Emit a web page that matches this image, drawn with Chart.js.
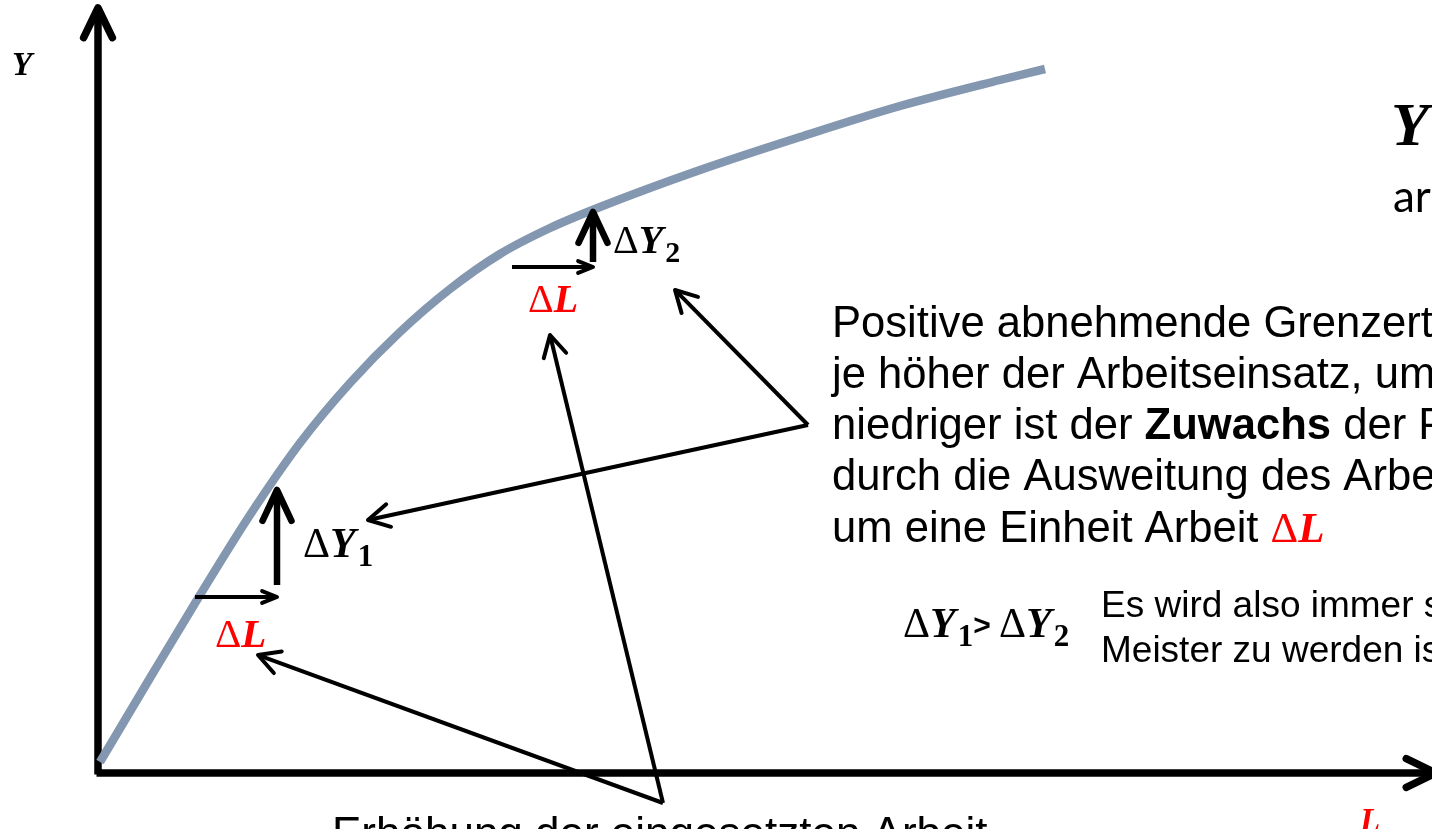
<!DOCTYPE html>
<html><head><meta charset="utf-8">
<script src="https://cdn.jsdelivr.net/npm/chart.js@4.4.1/dist/chart.umd.min.js"></script>
<style>
html,body{margin:0;padding:0;background:#ffffff;overflow:hidden}
#wrap{width:1432px;height:829px;position:relative}
</style>
</head><body>
<div id="wrap"><canvas id="c"></canvas></div>
<script>
// ---- data (units: L on x, Y on y) ----
const curveL = [0.02, 0.52, 1.02, 1.52, 2.02, 2.52, 3.02, 3.52, 4.02, 4.52, 5.02, 6.02, 7.02, 8.02, 9.02, 9.47];
const curveY = [0.11, 0.95, 1.78, 2.58, 3.30, 3.90, 4.41, 4.84, 5.19, 5.45, 5.66, 6.03, 6.36, 6.67, 6.93, 7.04];
const xRange = [-0.98, 13.34];
const yRange = [-0.56, 7.73];

// axes (start, end) in units
const axisVertical = [[0, -0.015], [0, 7.65]];
const axisHorizontal = [[-0.015, 0], [13.38, 0]];

// increment arrows: [fromL, fromY, toL, toY]
const deltaL1 = [0.97, 1.76, 1.79, 1.76];
const deltaY1 = [1.79, 1.88, 1.79, 2.83];
const deltaL2 = [4.14, 5.06, 4.95, 5.06];
const deltaY2 = [4.95, 5.11, 4.95, 5.61];

// pointer arrows: [fromL, fromY, toL, toY]
const pointers = [
  [7.10, 3.48, 2.70, 2.53],
  [7.10, 3.48, 5.77, 4.83],
  [5.65, -0.30, 4.52, 4.38],
  [5.65, -0.30, 1.60, 1.18]
];

// text anchors (left, baseline) in units
const labelYAxis = [-0.86, 6.98];
const labelLAxis = [12.62, -0.58];
const labelDY1 = [2.05, 2.16];
const labelDL1 = [1.17, 1.26];
const labelDY2 = [5.15, 5.20];
const labelDL2 = [4.30, 4.61];
const labelCompare = [8.05, 1.36];
const labelBigY = [12.93, 6.28];
const labelAr = [12.95, 5.61];
const bodyLines = [
  [[ 'Positive abnehmende Grenzerträge', 'n' ]],
  [[ 'je höher der Arbeitseinsatz, umso', 'n' ]],
  [[ 'niedriger ist der ', 'n' ], [ 'Zuwachs', 'b' ], [ ' der Produktion', 'n' ]],
  [[ 'durch die Ausweitung des Arbeitseinsatzes', 'n' ]],
  [[ 'um eine Einheit Arbeit ', 'n' ]]
];
const bodyLeft = 7.34;
const bodyBaselines = [4.36, 3.85, 3.34, 2.83, 2.31];
const noteLines = ['Es wird also immer schwieriger', 'Meister zu werden ist'];
const noteLeft = 10.03;
const noteBaselines = [1.56, 1.11];
const bottomText = 'Erhöhung der eingesetzten Arbeit';
const bottomAnchor = [2.34, -0.75];

// ---- drawing ----
const SANS = '"Liberation Sans", Arial, sans-serif';
const SERIF = '"Liberation Serif", "Times New Roman", serif';
const RED = '#ff0000';

function px(chart, p){ return [chart.scales.x.getPixelForValue(p[0]), chart.scales.y.getPixelForValue(p[1])]; }

function arrow(ctx, a, b, w, head, ang, color){
  const dx = b[0]-a[0], dy = b[1]-a[1], len = Math.hypot(dx, dy);
  const ux = dx/len, uy = dy/len;
  ctx.save(); ctx.strokeStyle = color; ctx.lineWidth = w; ctx.lineCap = 'butt'; ctx.lineJoin = 'miter';
  ctx.beginPath(); ctx.moveTo(a[0], a[1]); ctx.lineTo(b[0]-ux*w*0.6, b[1]-uy*w*0.6); ctx.stroke();
  const c = Math.cos(ang), s = Math.sin(ang);
  const l1 = [b[0] - head*(ux*c - uy*s), b[1] - head*(uy*c + ux*s)];
  const l2 = [b[0] - head*(ux*c + uy*s), b[1] - head*(uy*c - ux*s)];
  ctx.lineCap = 'round'; ctx.lineJoin = 'round';
  ctx.beginPath(); ctx.moveTo(l1[0], l1[1]); ctx.lineTo(b[0], b[1]); ctx.lineTo(l2[0], l2[1]); ctx.stroke();
  ctx.restore();
}
// math: parts [text, kind]: 'd' upright, 'v' bold italic, 's' subscript bold, 'g' sans operator
function math(ctx, x, y, parts, size, color){
  ctx.save(); ctx.fillStyle = color; ctx.textBaseline = 'alphabetic'; ctx.textAlign = 'left';
  let cx = x;
  for (const [t, k] of parts){
    if (k === 'd'){ ctx.font = `${size}px ${SERIF}`; ctx.fillText(t, cx, y); }
    else if (k === 'v'){ ctx.font = `italic bold ${size}px ${SERIF}`; ctx.fillText(t, cx, y); }
    else if (k === 's'){ ctx.font = `bold ${Math.round(size*0.74)}px ${SERIF}`; ctx.fillText(t, cx+2, y + size*0.22); cx += 2; }
    else if (k === 'g'){ ctx.font = `bold ${Math.round(size*0.72)}px ${SANS}`; ctx.fillText(t, cx, y-2); }
    cx += ctx.measureText(t).width;
  }
  ctx.restore();
  return cx;
}
function rich(ctx, x, y, parts, size, color){
  ctx.save(); ctx.fillStyle = color; ctx.textBaseline = 'alphabetic'; ctx.textAlign = 'left';
  let cx = x;
  for (const [t, k] of parts){
    ctx.font = (k === 'b' ? 'bold ' : '') + `${size}px ${SANS}`;
    ctx.fillText(t, cx, y); cx += ctx.measureText(t).width;
  }
  ctx.restore();
  return cx;
}

const diagram = {
  id: 'diagram',
  beforeDatasetsDraw(chart){
    const ctx = chart.ctx;
    const v0 = px(chart, axisVertical[0]), v1 = px(chart, axisVertical[1]);
    const h0 = px(chart, axisHorizontal[0]), h1 = px(chart, axisHorizontal[1]);
    arrow(ctx, v0, v1, 7.5, 33, 0.45, '#000');
    arrow(ctx, h0, h1, 7.5, 33, 0.45, '#000');
  },
  afterDatasetsDraw(chart){
    const ctx = chart.ctx;
    const seg = (d) => [px(chart, [d[0], d[1]]), px(chart, [d[2], d[3]])];
    let s;
    s = seg(deltaL1); arrow(ctx, s[0], s[1], 4, 16, 0.38, '#000');
    s = seg(deltaY1); arrow(ctx, s[0], s[1], 6.5, 34, 0.44, '#000');
    s = seg(deltaL2); arrow(ctx, s[0], s[1], 4, 16, 0.38, '#000');
    s = seg(deltaY2); arrow(ctx, s[0], s[1], 6.5, 34, 0.44, '#000');
    for (const p of pointers){ s = seg(p); arrow(ctx, s[0], s[1], 4, 24, 0.5, '#000'); }

    let p;
    p = px(chart, labelYAxis); math(ctx, p[0], p[1], [['Y','v']], 33, '#000');
    p = px(chart, labelLAxis); math(ctx, p[0], p[1], [['L','v']], 33, RED);
    p = px(chart, labelDY1); math(ctx, p[0], p[1], [['Δ','d'],['Y','v'],['1','s']], 42, '#000');
    p = px(chart, labelDL1); math(ctx, p[0], p[1], [['Δ','d'],['L','v']], 41, RED);
    p = px(chart, labelDY2); math(ctx, p[0], p[1], [['Δ','d'],['Y','v'],['2','s']], 40, '#000');
    p = px(chart, labelDL2); math(ctx, p[0], p[1], [['Δ','d'],['L','v']], 40, RED);
    p = px(chart, labelCompare); math(ctx, p[0], p[1], [['Δ','d'],['Y','v'],['1','s'],['> ','g'],['Δ','d'],['Y','v'],['2','s']], 42, '#000');
    p = px(chart, labelBigY); math(ctx, p[0], p[1], [['Y','v']], 62, '#000');
    p = px(chart, labelAr);
    ctx.save(); ctx.fillStyle = '#000'; ctx.font = '44px Lato, "Open Sans", sans-serif'; ctx.fillText('ar', p[0], p[1]); ctx.restore();

    bodyLines.forEach((parts, i) => {
      const q = px(chart, [bodyLeft, bodyBaselines[i]]);
      const end = rich(ctx, q[0], q[1], parts, 43.6, '#000');
      if (i === bodyLines.length - 1) math(ctx, end, q[1], [['Δ','d'],['L','v']], 43, RED);
    });
    noteLines.forEach((t, i) => {
      const q = px(chart, [noteLeft, noteBaselines[i]]);
      rich(ctx, q[0], q[1], [[t, 'n']], 37, '#000');
    });
    p = px(chart, bottomAnchor); rich(ctx, p[0], p[1], [[bottomText, 'n']], 44, '#000');
  }
};

new Chart(document.getElementById('c'), {
  type: 'line',
  data: {
    datasets: [{
      data: curveL.map((l, i) => ({ x: l, y: curveY[i] })),
      borderColor: '#8497b0',
      borderWidth: 8.5,
      pointRadius: 0,
      fill: false,
      cubicInterpolationMode: 'monotone',
      borderCapStyle: 'butt'
    }]
  },
  options: {
    responsive: true,
    maintainAspectRatio: false,
    animation: false,
    layout: { padding: 0 },
    plugins: { legend: { display: false }, tooltip: { enabled: false } },
    scales: {
      x: { type: 'linear', min: xRange[0], max: xRange[1], display: false },
      y: { type: 'linear', min: yRange[0], max: yRange[1], display: false }
    }
  },
  plugins: [diagram]
});
</script>
</body></html>
